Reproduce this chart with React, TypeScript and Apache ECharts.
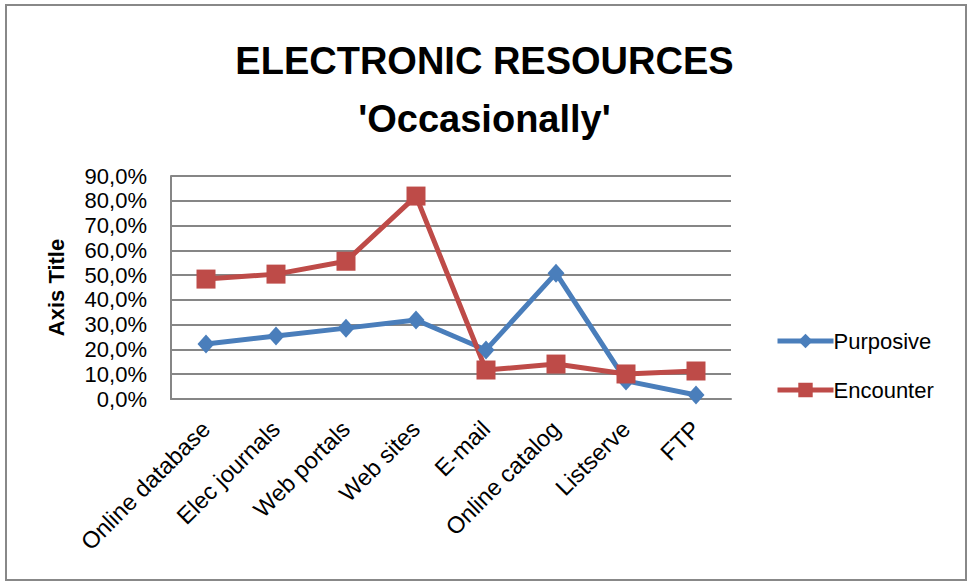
import React, { useEffect, useRef } from "react";
import * as echarts from "echarts";

const categories = ["Online database", "Elec journals", "Web portals", "Web sites", "E-mail", "Online catalog", "Listserve", "FTP"];
const purposive = [22.2, 25.4, 28.6, 31.9, 19.8, 50.8, 7.3, 1.6];
const encounter = [48.4, 50.4, 55.6, 81.9, 11.7, 14.1, 10.1, 11.3];
const titleLines = ["ELECTRONIC RESOURCES", "'Occasionally'"];
const yAxisTitle = "Axis Title";

const FONT = "'Liberation Sans', Arial, sans-serif";

export default function App() {
  const ref = useRef<HTMLDivElement>(null);
  useEffect(() => {
    if (!ref.current) return;
    const chart = echarts.init(ref.current, null, { renderer: "svg" });
    chart.setOption({
      animation: false,
      backgroundColor: "#fff",
      textStyle: { fontFamily: FONT },
      title: {
        text: titleLines.join("\n"),
        left: "center",
        top: 27,
        textStyle: { fontFamily: FONT, fontSize: 38, fontWeight: "bold", color: "#000", lineHeight: 58 },
      },
      graphic: [
        {
          type: "rect",
          shape: { x: 6, y: 5, width: 960, height: 575 },
          style: { fill: "none", stroke: "#888", lineWidth: 2 },
          silent: true,
          z: -1,
        },
      ],
      legend: {
        orient: "vertical",
        left: 770,
        top: 325,
        itemWidth: 56,
        itemHeight: 18,
        itemGap: 27,
        lineStyle: { width: 5 },
        textStyle: { fontFamily: FONT, fontSize: 22, color: "#000", padding: [0, 0, 0, -5] },
        data: ["Purposive", "Encounter"],
      },
      grid: { left: 171, right: 238, top: 176, bottom: 182 },
      xAxis: {
        type: "category",
        data: categories,
        boundaryGap: true,
        axisLine: { lineStyle: { color: "#868686", width: 2 } },
        axisTick: { show: false },
        axisLabel: { rotate: 45, fontSize: 23.5, color: "#000", margin: 26, fontFamily: FONT, interval: 0 },
      },
      yAxis: {
        type: "value",
        min: 0,
        max: 90,
        interval: 10,
        name: yAxisTitle,
        nameLocation: "middle",
        nameRotate: 90,
        nameGap: 104,
        nameTextStyle: { fontFamily: FONT, fontSize: 22, fontWeight: "bold", color: "#000" },
        axisLine: { show: true, lineStyle: { color: "#868686", width: 2 } },
        axisTick: { show: false },
        splitLine: { lineStyle: { color: "#868686", width: 2 } },
        axisLabel: {
          fontSize: 22,
          color: "#000",
          margin: 24,
          fontFamily: FONT,
          formatter: (v: number) => v.toFixed(1).replace(".", ",") + "%",
        },
      },
      series: [
        {
          name: "Purposive",
          type: "line",
          data: purposive,
          symbol: "diamond",
          symbolSize: [17, 19],
          lineStyle: { color: "#4A7EBB", width: 5 },
          itemStyle: { color: "#4A7EBB" },
        },
        {
          name: "Encounter",
          type: "line",
          data: encounter,
          symbol: "rect",
          symbolSize: 19,
          lineStyle: { color: "#BE4B48", width: 5 },
          itemStyle: { color: "#BE4B48" },
        },
      ],
    });
    return () => chart.dispose();
  }, []);
  return <div ref={ref} style={{ position: "fixed", left: 0, top: 0, width: 969, height: 581 }} />;
}
